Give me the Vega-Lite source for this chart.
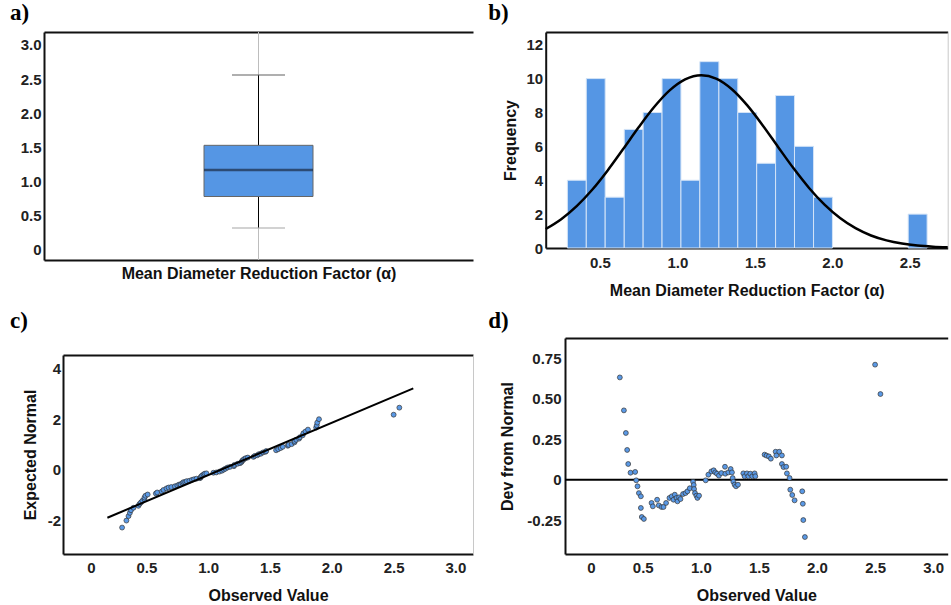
{
  "$schema": "https://vega.github.io/schema/vega-lite/v6.json",
  "padding": {"left": 10, "top": 1, "right": 0, "bottom": 0},
  "autosize": {"type": "pad"},
  "columns": 2,
  "spacing": {"row": 78, "column": 72.7},
  "bounds": "flush",
  "align": "each",
  "datasets": {
    "box": [{"variable": "Mean Diameter Reduction Factor (α)", "min": 0.32, "q1": 0.78, "median": 1.17, "q3": 1.53, "max": 2.56}],
    "hist": [
      {"bin_start": 0.290, "bin_end": 0.412, "count": 4},
      {"bin_start": 0.412, "bin_end": 0.534, "count": 10},
      {"bin_start": 0.534, "bin_end": 0.657, "count": 3},
      {"bin_start": 0.657, "bin_end": 0.779, "count": 7},
      {"bin_start": 0.779, "bin_end": 0.901, "count": 8},
      {"bin_start": 0.901, "bin_end": 1.023, "count": 10},
      {"bin_start": 1.023, "bin_end": 1.145, "count": 4},
      {"bin_start": 1.145, "bin_end": 1.268, "count": 11},
      {"bin_start": 1.268, "bin_end": 1.390, "count": 10},
      {"bin_start": 1.390, "bin_end": 1.512, "count": 8},
      {"bin_start": 1.512, "bin_end": 1.634, "count": 5},
      {"bin_start": 1.634, "bin_end": 1.756, "count": 9},
      {"bin_start": 1.756, "bin_end": 1.879, "count": 6},
      {"bin_start": 1.879, "bin_end": 2.001, "count": 3},
      {"bin_start": 2.490, "bin_end": 2.612, "count": 2}
    ],
    "curve": [
      {"x": 0.15, "density": 1.119}, {"x": 0.25, "density": 1.699}, {"x": 0.35, "density": 2.470},
      {"x": 0.45, "density": 3.436}, {"x": 0.55, "density": 4.579}, {"x": 0.65, "density": 5.839},
      {"x": 0.75, "density": 7.124}, {"x": 0.85, "density": 8.321}, {"x": 0.95, "density": 9.304},
      {"x": 1.05, "density": 9.957}, {"x": 1.155, "density": 10.2}, {"x": 1.25, "density": 10.0},
      {"x": 1.35, "density": 9.386}, {"x": 1.45, "density": 8.431}, {"x": 1.55, "density": 7.250},
      {"x": 1.65, "density": 5.967}, {"x": 1.75, "density": 4.701}, {"x": 1.85, "density": 3.545},
      {"x": 1.95, "density": 2.558}, {"x": 2.05, "density": 1.768}, {"x": 2.15, "density": 1.169},
      {"x": 2.25, "density": 0.740}, {"x": 2.35, "density": 0.448}, {"x": 2.45, "density": 0.260},
      {"x": 2.55, "density": 0.144}, {"x": 2.65, "density": 0.077}, {"x": 2.745, "density": 0.040}
    ],
    "qqline": [{"obs": 0.189, "expected": -1.881}, {"obs": 2.664, "expected": 3.218}],
    "qq": [
      {"obs": 0.308, "expected": -2.269, "dev": 0.633},
      {"obs": 0.343, "expected": -1.993, "dev": 0.429},
      {"obs": 0.360, "expected": -1.818, "dev": 0.289},
      {"obs": 0.371, "expected": -1.690, "dev": 0.184},
      {"obs": 0.380, "expected": -1.584, "dev": 0.097},
      {"obs": 0.400, "expected": -1.489, "dev": 0.043},
      {"obs": 0.440, "expected": -1.412, "dev": 0.048},
      {"obs": 0.449, "expected": -1.341, "dev": -0.004},
      {"obs": 0.460, "expected": -1.282, "dev": -0.041},
      {"obs": 0.472, "expected": -1.215, "dev": -0.083},
      {"obs": 0.489, "expected": -1.160, "dev": -0.103},
      {"obs": 0.489, "expected": -1.088, "dev": -0.175},
      {"obs": 0.497, "expected": -1.015, "dev": -0.231},
      {"obs": 0.515, "expected": -0.966, "dev": -0.243},
      {"obs": 0.581, "expected": -0.929, "dev": -0.144},
      {"obs": 0.592, "expected": -0.886, "dev": -0.165},
      {"obs": 0.629, "expected": -0.850, "dev": -0.124},
      {"obs": 0.643, "expected": -0.787, "dev": -0.159},
      {"obs": 0.667, "expected": -0.727, "dev": -0.169},
      {"obs": 0.684, "expected": -0.692, "dev": -0.169},
      {"obs": 0.706, "expected": -0.672, "dev": -0.144},
      {"obs": 0.735, "expected": -0.643, "dev": -0.113},
      {"obs": 0.755, "expected": -0.612, "dev": -0.103},
      {"obs": 0.770, "expected": -0.573, "dev": -0.124},
      {"obs": 0.781, "expected": -0.568, "dev": -0.093},
      {"obs": 0.796, "expected": -0.517, "dev": -0.113},
      {"obs": 0.804, "expected": -0.480, "dev": -0.134},
      {"obs": 0.818, "expected": -0.476, "dev": -0.109},
      {"obs": 0.830, "expected": -0.440, "dev": -0.120},
      {"obs": 0.852, "expected": -0.426, "dev": -0.089},
      {"obs": 0.873, "expected": -0.389, "dev": -0.083},
      {"obs": 0.890, "expected": -0.365, "dev": -0.072},
      {"obs": 0.910, "expected": -0.343, "dev": -0.053},
      {"obs": 0.938, "expected": -0.325, "dev": -0.013},
      {"obs": 0.944, "expected": -0.292, "dev": -0.033},
      {"obs": 0.947, "expected": -0.261, "dev": -0.058},
      {"obs": 0.955, "expected": -0.220, "dev": -0.083},
      {"obs": 0.967, "expected": -0.179, "dev": -0.099},
      {"obs": 0.976, "expected": -0.147, "dev": -0.113},
      {"obs": 0.990, "expected": -0.132, "dev": -0.099},
      {"obs": 1.047, "expected": -0.109, "dev": -0.004},
      {"obs": 1.070, "expected": -0.097, "dev": 0.031},
      {"obs": 1.096, "expected": -0.063, "dev": 0.051},
      {"obs": 1.116, "expected": -0.029, "dev": 0.058},
      {"obs": 1.130, "expected": 0.013, "dev": 0.045},
      {"obs": 1.144, "expected": 0.050, "dev": 0.037},
      {"obs": 1.161, "expected": 0.097, "dev": 0.025},
      {"obs": 1.182, "expected": 0.124, "dev": 0.041},
      {"obs": 1.213, "expected": 0.149, "dev": 0.080},
      {"obs": 1.216, "expected": 0.198, "dev": 0.037},
      {"obs": 1.242, "expected": 0.243, "dev": 0.045},
      {"obs": 1.262, "expected": 0.264, "dev": 0.066},
      {"obs": 1.273, "expected": 0.307, "dev": 0.045},
      {"obs": 1.279, "expected": 0.355, "dev": 0.010},
      {"obs": 1.285, "expected": 0.390, "dev": -0.013},
      {"obs": 1.296, "expected": 0.431, "dev": -0.031},
      {"obs": 1.308, "expected": 0.465, "dev": -0.041},
      {"obs": 1.325, "expected": 0.490, "dev": -0.031},
      {"obs": 1.371, "expected": 0.515, "dev": 0.039},
      {"obs": 1.382, "expected": 0.556, "dev": 0.021},
      {"obs": 1.402, "expected": 0.579, "dev": 0.039},
      {"obs": 1.414, "expected": 0.622, "dev": 0.021},
      {"obs": 1.431, "expected": 0.641, "dev": 0.037},
      {"obs": 1.448, "expected": 0.692, "dev": 0.021},
      {"obs": 1.468, "expected": 0.715, "dev": 0.039},
      {"obs": 1.474, "expected": 0.745, "dev": 0.021},
      {"obs": 1.554, "expected": 0.776, "dev": 0.155},
      {"obs": 1.571, "expected": 0.817, "dev": 0.149},
      {"obs": 1.591, "expected": 0.863, "dev": 0.144},
      {"obs": 1.608, "expected": 0.912, "dev": 0.130},
      {"obs": 1.649, "expected": 0.954, "dev": 0.173},
      {"obs": 1.655, "expected": 0.989, "dev": 0.150},
      {"obs": 1.680, "expected": 1.018, "dev": 0.173},
      {"obs": 1.703, "expected": 1.088, "dev": 0.150},
      {"obs": 1.703, "expected": 1.141, "dev": 0.097},
      {"obs": 1.717, "expected": 1.189, "dev": 0.078},
      {"obs": 1.740, "expected": 1.234, "dev": 0.080},
      {"obs": 1.746, "expected": 1.288, "dev": 0.039},
      {"obs": 1.769, "expected": 1.364, "dev": 0.010},
      {"obs": 1.775, "expected": 1.448, "dev": -0.062},
      {"obs": 1.792, "expected": 1.516, "dev": -0.095},
      {"obs": 1.812, "expected": 1.591, "dev": -0.128},
      {"obs": 1.878, "expected": 1.671, "dev": -0.072},
      {"obs": 1.883, "expected": 1.758, "dev": -0.149},
      {"obs": 1.887, "expected": 1.867, "dev": -0.250},
      {"obs": 1.901, "expected": 2.001, "dev": -0.355},
      {"obs": 2.505, "expected": 2.178, "dev": 0.712},
      {"obs": 2.551, "expected": 2.455, "dev": 0.530}
    ]
  },
  "concat": [
    {
      "width": 429, "height": 228,
      "title": {"text": "a)", "dx": -34, "offset": 7},
      "data": {"name": "box"},
      "layer": [
        {"mark": {"type": "rule", "color": "#bdbdbd", "strokeWidth": 1},
         "encoding": {"x": {"field": "variable", "type": "nominal", "axis": {"orient": "bottom", "labels": false, "title": "Mean Diameter Reduction Factor (α)", "titlePadding": 5}}}},
        {"mark": {"type": "rule", "color": "#000", "strokeWidth": 1},
         "encoding": {
           "x": {"field": "variable", "type": "nominal", "axis": null},
           "y": {"field": "min", "type": "quantitative", "scale": {"domain": [-0.15, 3.19], "nice": false, "zero": false},
                 "axis": {"values": [0, 0.5, 1, 1.5, 2, 2.5, 3], "labelExpr": "datum.value == 0 ? '0' : format(datum.value, '.1f')", "labelPadding": 3, "title": null}},
           "y2": {"field": "max"}}},
        {"mark": {"type": "tick", "color": "#666", "size": 53, "thickness": 1.5},
         "encoding": {"x": {"field": "variable", "type": "nominal", "axis": null}, "y": {"field": "max", "type": "quantitative", "axis": null}}},
        {"mark": {"type": "tick", "color": "#aaa", "size": 53, "thickness": 1.5},
         "encoding": {"x": {"field": "variable", "type": "nominal", "axis": null}, "y": {"field": "min", "type": "quantitative", "axis": null}}},
        {"mark": {"type": "bar", "size": 109, "color": "#5596e4", "stroke": "#666", "strokeWidth": 1},
         "encoding": {"x": {"field": "variable", "type": "nominal", "axis": null}, "y": {"field": "q1", "type": "quantitative", "axis": null}, "y2": {"field": "q3"}}},
        {"mark": {"type": "tick", "size": 109, "thickness": 2.5, "color": "#1b2b45"},
         "encoding": {"x": {"field": "variable", "type": "nominal", "axis": null}, "y": {"field": "median", "type": "quantitative", "axis": null}}},
        {"mark": {"type": "tick", "opacity": 0},
         "encoding": {"x": {"field": "variable", "type": "nominal", "axis": {"orient": "top", "labels": false, "title": null}}, "y": {"field": "median", "type": "quantitative", "axis": null}}}
      ],
      "resolve": {"axis": {"x": "independent", "y": "independent"}}
    },
    {
      "width": 402, "height": 216,
      "title": {"text": "b)", "dx": -57.5, "offset": 7},
      "layer": [
        {"data": {"name": "hist"},
         "mark": {"type": "bar", "color": "#5596e4", "stroke": "#d4e4f7", "strokeWidth": 1},
         "encoding": {
           "x": {"field": "bin_start", "type": "quantitative", "scale": {"domain": [0.15, 2.745], "nice": false, "zero": false},
                 "axis": {"values": [0.5, 1, 1.5, 2, 2.5], "format": ".1f", "title": "Mean Diameter Reduction Factor (α)", "labelPadding": 7, "titlePadding": 12}},
           "x2": {"field": "bin_end"},
           "y": {"field": "count", "type": "quantitative", "scale": {"domain": [0, 12.75], "nice": false},
                 "axis": {"values": [0, 2, 4, 6, 8, 10, 12], "title": "Frequency", "labelPadding": 3, "titlePadding": 8}},
           "y2": {"datum": 0}}},
        {"data": {"name": "curve"},
         "mark": {"type": "line", "color": "#000", "strokeWidth": 2.5, "interpolate": "monotone"},
         "encoding": {"x": {"field": "x", "type": "quantitative", "axis": null}, "y": {"field": "density", "type": "quantitative", "axis": null}}},
        {"data": {"name": "curve"},
         "mark": {"type": "point", "opacity": 0},
         "encoding": {
           "x": {"field": "x", "type": "quantitative", "axis": {"orient": "top", "labels": false, "title": null}},
           "y": {"field": "density", "type": "quantitative", "axis": {"orient": "right", "labels": false, "title": null, "domainColor": "#c8c8c8", "domainWidth": 1}}}}
      ],
      "resolve": {"axis": {"x": "independent", "y": "independent"}}
    },
    {
      "width": 429, "height": 216,
      "title": {"text": "c)", "dx": -34, "offset": 5},
      "layer": [
        {"data": {"name": "qq"},
         "mark": {"type": "point", "filled": true, "size": 24, "color": "#5a99e6", "stroke": "#333", "strokeWidth": 0.7, "opacity": 1},
         "encoding": {
           "x": {"field": "obs", "type": "quantitative", "scale": {"domain": [-0.17, 3.147], "range": [19, 429], "nice": false, "zero": false},
                 "axis": {"values": [0, 0.5, 1, 1.5, 2, 2.5, 3], "labelExpr": "datum.value == 0 ? '0' : format(datum.value, '.1f')", "labelAlign": "right", "labelOffset": 11, "labelPadding": 6, "title": "Observed Value", "titlePadding": 12}},
           "y": {"field": "expected", "type": "quantitative", "scale": {"domain": [-3.31, 4.53], "range": [216, 17], "nice": false, "zero": false},
                 "axis": {"values": [-2, 0, 2, 4], "labelExpr": "'' + datum.value", "title": "Expected Normal", "offset": -19, "labelPadding": 2.5, "titlePadding": 9}}}},
        {"data": {"name": "qqline"},
         "mark": {"type": "line", "color": "#000", "strokeWidth": 2},
         "encoding": {"x": {"field": "obs", "type": "quantitative", "axis": null}, "y": {"field": "expected", "type": "quantitative", "axis": null}}},
        {"data": {"name": "qqline"},
         "mark": {"type": "point", "opacity": 0},
         "encoding": {
           "x": {"field": "obs", "type": "quantitative", "axis": {"orient": "top", "labels": false, "title": null, "offset": -17}},
           "y": {"field": "expected", "type": "quantitative", "axis": {"orient": "right", "labels": false, "title": null, "domainColor": "#c8c8c8", "domainWidth": 1}}}}
      ],
      "resolve": {"axis": {"x": "independent", "y": "independent"}}
    },
    {
      "width": 402, "height": 216,
      "title": {"text": "d)", "dx": -57.5, "offset": 5},
      "layer": [
        {"data": {"values": [{}]},
         "mark": {"type": "rule", "color": "#000", "strokeWidth": 2},
         "encoding": {
           "x": {"datum": -0.164, "type": "quantitative", "scale": {"domain": [-0.164, 3.13], "range": [19.3, 402], "nice": false, "zero": false}, "axis": null},
           "x2": {"datum": 3.13},
           "y": {"datum": 0, "type": "quantitative", "scale": {"domain": [-0.46, 0.877], "nice": false, "zero": false}, "axis": null}}},
        {"data": {"name": "qq"},
         "mark": {"type": "point", "filled": true, "size": 24, "color": "#5a99e6", "stroke": "#333", "strokeWidth": 0.7, "opacity": 1},
         "encoding": {
           "x": {"field": "obs", "type": "quantitative",
                 "axis": {"values": [0, 0.5, 1, 1.5, 2, 2.5, 3], "labelExpr": "datum.value == 0 ? '0' : format(datum.value, '.1f')", "labelAlign": "right", "labelOffset": 11, "labelPadding": 6, "title": "Observed Value", "titlePadding": 12}},
           "y": {"field": "dev", "type": "quantitative",
                 "axis": {"values": [-0.25, 0, 0.25, 0.5, 0.75], "labelExpr": "datum.value == 0 ? '0' : replace(format(datum.value, '.2f'), '−', '-')", "title": "Dev from Normal", "offset": -19.3, "labelPadding": 4, "titlePadding": 11}}}},
        {"data": {"name": "qq"},
         "mark": {"type": "point", "opacity": 0},
         "encoding": {
           "x": {"field": "obs", "type": "quantitative", "axis": {"orient": "top", "labels": false, "title": null}},
           "y": {"field": "dev", "type": "quantitative", "axis": null}}}
      ],
      "resolve": {"axis": {"x": "independent", "y": "independent"}}
    }
  ],
  "config": {
    "view": {"stroke": null},
    "font": "Liberation Sans",
    "axis": {
      "labelFont": "Liberation Sans", "labelFontSize": 15, "labelFontWeight": "bold", "labelColor": "#222",
      "titleFont": "Liberation Sans", "titleFontSize": 16, "titleFontWeight": "bold", "titleColor": "#111",
      "ticks": false, "tickSize": 0, "grid": false, "domainColor": "#111", "domainWidth": 2,
      "labelOverlap": false, "labelFlush": false
    },
    "title": {"font": "Liberation Serif", "fontSize": 23, "fontWeight": "bold", "anchor": "start", "frame": "group", "baseline": "alphabetic", "color": "#000"}
  }
}
